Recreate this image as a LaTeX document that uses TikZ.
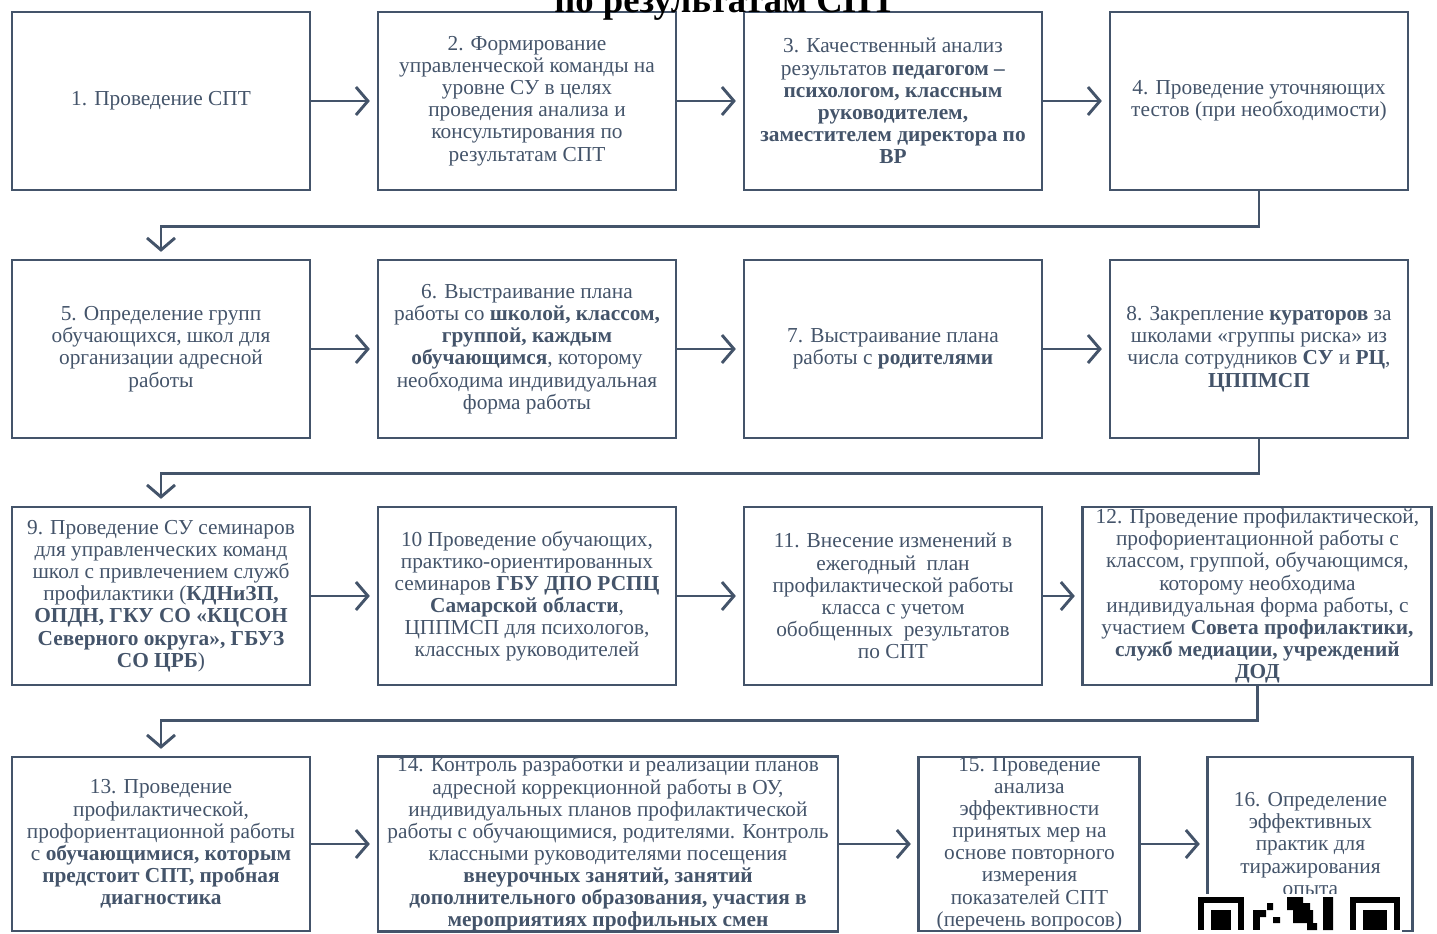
\documentclass[tikz,border=0pt]{standalone}
\usepackage{fontspec}
\setmainfont{Liberation Serif}
\usetikzlibrary{arrows.meta,positioning}

\definecolor{frame}{HTML}{44546A}
\definecolor{ink}{HTML}{44546A}

\begin{document}
\begin{tikzpicture}[x=0.75pt,y=-0.75pt,line width=2.2pt,node distance=48.8pt,
  >={Straight Barb[length=9pt,width=21pt]},
  box/.style={draw=frame,minimum width=223.5pt,minimum height=133.5pt,
    inner sep=0pt,align=center,text=ink,font=\fontsize{16}{16.6}\selectfont},
  link/.style={->,draw=frame,shorten >=5pt}]

  \useasboundingbox (0,0) rectangle (1437,933);
  \clip (0,0) rectangle (1437,933);

  % row 1
  \node[box] (1) at (161,101) {1. Проведение СПТ};
  \node[box] (2) [right=of 1] {2. Формирование\\управленческой команды на\\уровне СУ в целях\\проведения анализа и\\консультирования по\\результатам СПТ};
  \node[box] (3) [right=of 2] {3. Качественный анализ\\результатов \textbf{педагогом –}\\\textbf{психологом, классным}\\\textbf{руководителем,}\\\textbf{заместителем директора по}\\\textbf{ВР}};
  \node[box] (4) [right=of 3] {4. Проведение уточняющих\\тестов (при необходимости)};

  % row 2
  \node[box] (5) at (161,349) {5. Определение групп\\обучающихся, школ для\\организации адресной\\работы};
  \node[box] (6) [right=of 5] {6. Выстраивание плана\\работы со \textbf{школой, классом,}\\\textbf{группой, каждым}\\\textbf{обучающимся}, которому\\необходима индивидуальная\\форма работы};
  \node[box] (7) [right=of 6] {7. Выстраивание плана\\работы с \textbf{родителями}};
  \node[box] (8) [right=of 7] {8. Закрепление \textbf{кураторов} за\\школами «группы риска» из\\числа сотрудников \textbf{СУ} и \textbf{РЦ},\\\textbf{ЦППМСП}};

  % row 3
  \node[box] (9) at (161,596) {9. Проведение СУ семинаров\\для управленческих команд\\школ с привлечением служб\\профилактики (\textbf{КДНиЗП,}\\\textbf{ОПДН, ГКУ СО «КЦСОН}\\\textbf{Северного округа», ГБУЗ}\\\textbf{СО ЦРБ})};
  \node[box] (10) [right=of 9] {10 Проведение обучающих,\\практико-ориентированных\\семинаров \textbf{ГБУ ДПО РСПЦ}\\\textbf{Самарской области},\\ЦППМСП для психологов,\\классных руководителей};
  \node[box] (11) [right=of 10] {11. Внесение изменений в\\ежегодный\ \ план\\профилактической работы\\класса с учетом\\обобщенных\ \ результатов\\по СПТ};
  \node[box,minimum width=261.75pt] (12) [right=28.5pt of 11] {12. Проведение профилактической,\\профориентационной работы с\\классом, группой, обучающимся,\\которому необходима\\индивидуальная форма работы, с\\участием \textbf{Совета профилактики,}\\\textbf{служб медиации, учреждений}\\\textbf{ДОД}};

  % row 4
  \node[box,minimum height=130.5pt] (13) at (161,844) {13. Проведение\\профилактической,\\профориентационной работы\\с \textbf{обучающимися, которым}\\\textbf{предстоит СПТ, пробная}\\\textbf{диагностика}};
  \node[box,minimum width=345pt,minimum height=130.5pt] (14) [right=of 13] {14. Контроль разработки и реализации планов\\адресной коррекционной работы в ОУ,\\индивидуальных планов профилактической\\работы с обучающимися, родителями. Контроль\\классными руководителями посещения\\\textbf{внеурочных занятий, занятий}\\\textbf{дополнительного образования, участия в}\\\textbf{мероприятиях профильных смен}};
  \node[box,minimum width=165.75pt,minimum height=130.5pt] (15) [right=58.5pt of 14] {15. Проведение\\анализа\\эффективности\\принятых мер на\\основе повторного\\измерения\\показателей СПТ\\(перечень вопросов)};
  \node[box,minimum width=153.75pt,minimum height=130.5pt] (16) [right=of 15] {16. Определение\\эффективных\\практик для\\тиражирования\\опыта};

  % steps along each row
  \path[link] (1) edge (2) (2) edge (3) (3) edge (4)
              (5) edge (6) (6) edge (7) (7) edge (8)
              (9) edge (10) (10) edge (11) (11) edge (12)
              (13) edge (14) (14) edge (15) (15) edge (16);

  % turns to the next row
  \draw[link] (4.south) -- ++(0,35) -| (5.north);
  \draw[link] (8.south) -- ++(0,34) -| (9.north);
  \draw[link] (12.south) -- ++(0,34) -| (13.north);

  % title, cut at the top
  \node[anchor=base,font=\bfseries\fontsize{27.5}{27.5}\selectfont] (title) at (725,12) {по результатам СПТ};

  % piece of a code in the corner
  \fill[white] (1196,894) rectangle (1402,940);
  \fill (1198,897) rectangle (1244,930);
  \fill[white] (1204,903) rectangle (1238,930);
  \fill (1211,910) rectangle (1231,930);
  \fill (1253,910) rectangle (1260,930);
  \fill (1260,910) rectangle (1266,917) (1267,903) rectangle (1273,910) (1273,917) rectangle (1280,923);
  \fill (1287,897) rectangle (1303,910) (1293,910) rectangle (1313,923) (1307,923) rectangle (1317,930);
  \fill (1303,903) rectangle (1310,910) (1323,897) rectangle (1333,930);
  \fill (1350,897) rectangle (1400,930);
  \fill[white] (1356,903) rectangle (1394,930);
  \fill (1363,910) rectangle (1387,930);

\end{tikzpicture}
\end{document}
